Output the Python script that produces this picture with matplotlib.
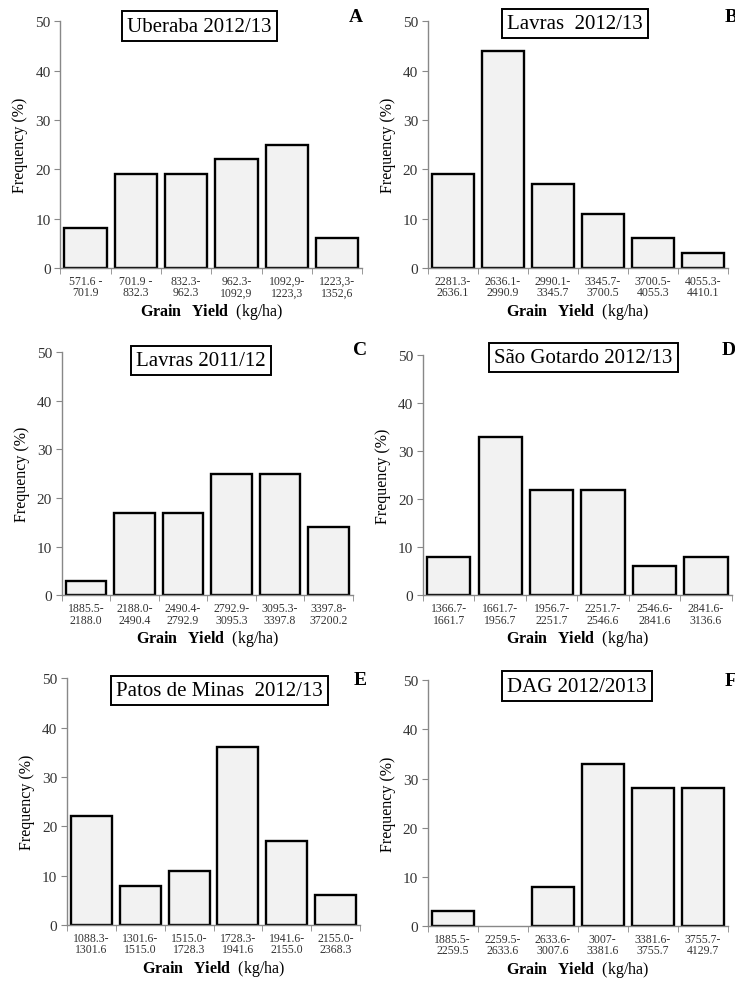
import numpy as np
import matplotlib.pyplot as plt

plt.rcParams['font.family'] = 'Liberation Serif'
plt.rcParams['mathtext.fontset'] = 'custom'
plt.rcParams['mathtext.bf'] = 'Liberation Serif:bold'
plt.rcParams['mathtext.rm'] = 'Liberation Serif'

# frequency (%) per yield class, one list per site
freq_a = [8, 19, 19, 22, 25, 6]
freq_b = [19, 44, 17, 11, 6, 3]
freq_c = [3, 17, 17, 25, 25, 14]
freq_d = [8, 33, 22, 22, 6, 8]
freq_e = [22, 8, 11, 36, 17, 6]
freq_f = [3, 0, 8, 33, 28, 28]

labels_a = ["571.6 -\n701.9", "701.9 -\n832.3", "832.3-\n962.3",
            "962.3-\n1092,9", "1092,9-\n1223,3", "1223,3-\n1352,6"]
labels_b = ["2281.3-\n2636.1", "2636.1-\n2990.9", "2990.1-\n3345.7",
            "3345.7-\n3700.5", "3700.5-\n4055.3", "4055.3-\n4410.1"]
labels_c = ["1885.5-\n2188.0", "2188.0-\n2490.4", "2490.4-\n2792.9",
            "2792.9-\n3095.3", "3095.3-\n3397.8", "3397.8-\n37200.2"]
labels_d = ["1366.7-\n1661.7", "1661.7-\n1956.7", "1956.7-\n2251.7",
            "2251.7-\n2546.6", "2546.6-\n2841.6", "2841.6-\n3136.6"]
labels_e = ["1088.3-\n1301.6", "1301.6-\n1515.0", "1515.0-\n1728.3",
            "1728.3-\n1941.6", "1941.6-\n2155.0", "2155.0-\n2368.3"]
labels_f = ["1885.5-\n2259.5", "2259.5-\n2633.6", "2633.6-\n3007.6",
            "3007-\n3381.6", "3381.6-\n3755.7", "3755.7-\n4129.7"]

titles = ["Uberaba 2012/13", "Lavras  2012/13", "Lavras 2011/12",
          "São Gotardo 2012/13", "Patos de Minas  2012/13", "DAG 2012/2013"]
letters = ["A", "B", "C", "D", "E", "F"]

freqs = [freq_a, freq_b, freq_c, freq_d, freq_e, freq_f]
labels = [labels_a, labels_b, labels_c, labels_d, labels_e, labels_f]

# axes rectangles (figure fraction)
rects = [[0.082, 0.7275, 0.411, 0.250],
         [0.582, 0.7275, 0.408, 0.250],
         [0.084, 0.396, 0.396, 0.246],
         [0.5755, 0.396, 0.420, 0.243],
         [0.091, 0.0618, 0.399, 0.250],
         [0.582, 0.0608, 0.408, 0.249]]
title_pos = [(0.46, 0.98), (0.49, 0.99), (0.478, 0.967),
             (0.52, 0.99), (0.52, 0.95), (0.497, 0.976)]
letter_pos = [(0.977, 1.02), (1.01, 1.02), (1.024, 1.01),
              (0.99, 1.025), (1.0, 0.996), (1.01, 1.0)]

fig = plt.figure(figsize=(7.35, 9.87), dpi=100)

for i in range(6):
    ax = fig.add_axes(rects[i])
    x = np.arange(len(freqs[i]))
    lw = [0 if v == 0 else 1.7 for v in freqs[i]]
    ax.bar(x, freqs[i], width=0.84, color='#f2f2f2', edgecolor='black',
           linewidth=lw)
    ax.set_xlim(-0.5, 5.5)
    ax.set_ylim(0, 50)
    ax.set_yticks([0, 10, 20, 30, 40, 50])
    ax.set_xticks(x)
    ax.set_xticklabels(labels[i], fontsize=8.5, linespacing=0.95)
    ax.set_xticks(np.arange(-0.5, 6, 1), minor=True)
    ax.tick_params(axis='x', which='major', length=0, pad=5, colors='#333333')
    ax.tick_params(axis='x', which='minor', length=4, color='#888888')
    ax.tick_params(axis='y', length=4, color='#888888', labelsize=11,
                   colors='#333333', pad=3)
    for s in ['top', 'right']:
        ax.spines[s].set_visible(False)
    for s in ['left', 'bottom']:
        ax.spines[s].set_color('#888888')
        ax.spines[s].set_linewidth(1.0)
    ax.set_ylabel('Frequency (%)', fontsize=11.5, labelpad=5)
    ax.set_xlabel(r'$\mathbf{Grain\ \ Yield}$  (kg/ha)', fontsize=11.5,
                  labelpad=2)
    ax.text(title_pos[i][0], title_pos[i][1], titles[i], transform=ax.transAxes,
            ha='center', va='center', fontsize=15, clip_on=False,
            bbox=dict(boxstyle='square,pad=0.25', facecolor='white',
                      edgecolor='black', linewidth=1.4))
    ax.text(letter_pos[i][0], letter_pos[i][1], letters[i], transform=ax.transAxes,
            ha='center', va='center', fontsize=14, fontweight='bold',
            clip_on=False)

fig.savefig('out.png', dpi=100)
